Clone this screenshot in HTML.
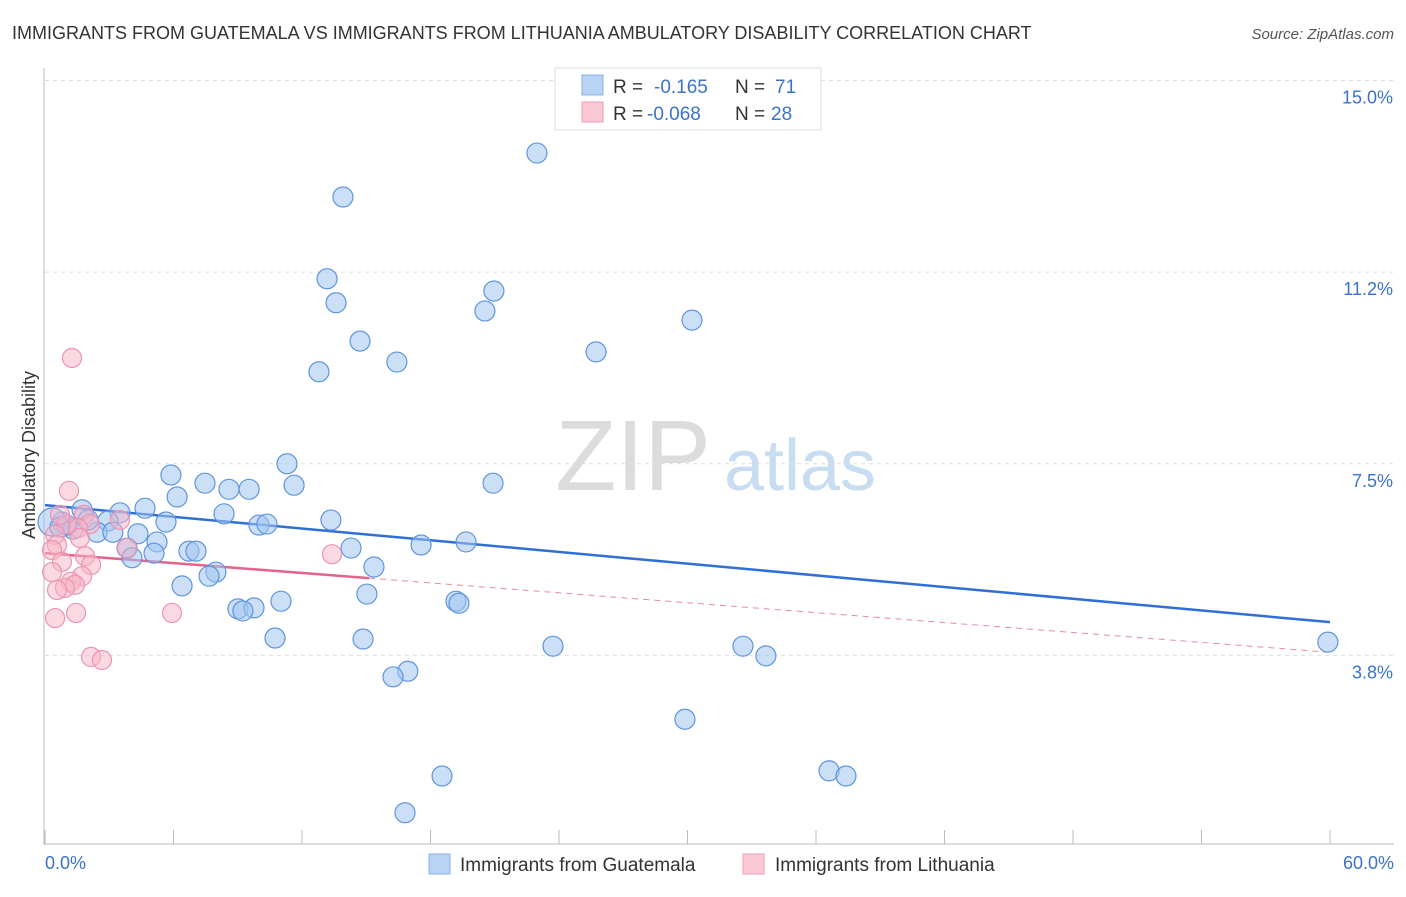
<!DOCTYPE html>
<html><head><meta charset="utf-8"><style>
body{margin:0;background:#fff;font-family:"Liberation Sans",sans-serif;}
svg text{font-family:"Liberation Sans",sans-serif;}
</style></head><body>
<svg width="1406" height="892" xmlns="http://www.w3.org/2000/svg">
<text x="12" y="39" font-size="18" fill="#333">IMMIGRANTS FROM GUATEMALA VS IMMIGRANTS FROM LITHUANIA AMBULATORY DISABILITY CORRELATION CHART</text>
<text x="1394" y="39" font-size="15" fill="#555" font-style="italic" text-anchor="end">Source: ZipAtlas.com</text>
<g id="watermark">
<text x="633" y="490" font-size="100" font-family="Liberation Serif,serif" fill="#dcdcdc" text-anchor="middle">ZIP</text>
<text x="800" y="490" font-size="72" fill="#c8dcf2" text-anchor="middle">atlas</text>
</g>
<g id="grid"></g>
<g id="axes"></g>
<g id="lines"></g>
<g id="points"></g>
<text transform="translate(35,455) rotate(-90)" font-size="18" fill="#333" text-anchor="middle">Ambulatory Disability</text>
<text x="45" y="869" font-size="18" fill="#3b73c9">0.0%</text>
<text x="1394" y="869" font-size="18" fill="#3b73c9" text-anchor="end">60.0%</text>
<g>
<rect x="555" y="68" width="266" height="62" fill="#fff" stroke="#ddd"/>
<rect x="582" y="75" width="21" height="20" fill="#b9d3f4" stroke="#8ab0e6"/>
<rect x="582" y="102" width="21" height="20" fill="#fbc8d6" stroke="#ef9fb6"/>
<text x="613" y="93" font-size="19" fill="#333">R = </text><text x="654" y="93" font-size="19" fill="#3b73c9">-0.165</text>
<text x="735" y="93" font-size="19" fill="#333">N = </text><text x="775" y="93" font-size="19" fill="#3b73c9">71</text>
<text x="613" y="120" font-size="19" fill="#333">R = </text><text x="647" y="120" font-size="19" fill="#3b73c9">-0.068</text>
<text x="735" y="120" font-size="19" fill="#333">N = </text><text x="771" y="120" font-size="19" fill="#3b73c9">28</text>
</g>
<g>
<rect x="429" y="854" width="21" height="20" fill="#b9d3f4" stroke="#8ab0e6"/>
<text x="460" y="871" font-size="19" fill="#333">Immigrants from Guatemala</text>
<rect x="743" y="854" width="21" height="20" fill="#fbc8d6" stroke="#ef9fb6"/>
<text x="775" y="871" font-size="19" fill="#333">Immigrants from Lithuania</text>
</g>
</svg>
<script>
const yTicks=[3.75,7.5,11.25,15];
const yTickLabels=["3.8%","7.5%","11.2%","15.0%"];
const xTicks=[0,6,12,18,24,30,36,42,48,54,60];
const blueX=[22.97,13.91,13.17,13.59,20.96,20.54,30.21,14.71,16.43,25.73,12.79,11.30,5.88,7.47,11.63,20.92,8.59,9.53,6.17,4.67,1.73,3.50,8.36,13.35,5.65,2.94,0.79,0.33,9.99,10.36,1.31,2.43,3.17,4.34,5.23,17.56,19.66,3.83,14.29,6.72,7.05,5.09,4.06,15.36,7.98,7.66,6.40,15.03,11.02,19.19,19.33,9.01,9.76,9.24,10.74,14.85,23.72,32.59,33.66,59.90,16.94,16.25,29.88,18.54,36.61,37.40,16.81,1.03,2.01,0.70];
const blueY=[13.58,12.72,11.12,10.65,10.88,10.49,10.31,9.90,9.49,9.69,9.30,7.50,7.28,7.12,7.08,7.12,7.00,7.00,6.85,6.63,6.60,6.54,6.52,6.40,6.36,6.38,6.36,6.36,6.30,6.32,6.22,6.16,6.16,6.13,5.97,5.91,5.97,5.85,5.85,5.79,5.79,5.75,5.66,5.48,5.38,5.30,5.11,4.95,4.81,4.81,4.77,4.66,4.68,4.62,4.09,4.07,3.93,3.93,3.74,4.01,3.44,3.33,2.50,1.39,1.49,1.39,0.67,6.30,6.40,6.26];
const pinkX=[1.26,1.12,1.82,3.50,0.98,2.10,1.54,0.47,1.63,0.56,3.83,0.33,1.87,13.40,0.79,2.15,0.33,1.73,1.21,1.40,0.93,0.56,1.45,5.93,0.47,2.15,2.66,0.70];
const pinkY=[9.57,6.97,6.50,6.40,6.32,6.32,6.24,6.11,6.05,5.91,5.85,5.81,5.69,5.73,5.58,5.52,5.38,5.30,5.19,5.13,5.07,5.03,4.58,4.58,4.48,3.72,3.66,6.50];
const blueTrend=[6.69,4.40]; // value at x=0 and x=60
const pinkTrend=[5.75,3.81];
const pinkSolidEnd=15.13;
const NS="http://www.w3.org/2000/svg";
const sx=v=>45+v/60*1285;
const sy=v=>847-v*51.1;
function mk(tag,attrs,parent){const e=document.createElementNS(NS,tag);for(const k in attrs)e.setAttribute(k,attrs[k]);document.getElementById(parent).appendChild(e);return e;}
yTicks.forEach((t,i)=>{
 const l=mk('line',{x1:45,x2:1394,y1:sy(t),y2:sy(t),stroke:'#ddd','stroke-dasharray':'4,4'},'grid');
 
 
 const tx=mk('text',{x:1393,y:sy(t)+23,'font-size':18,fill:'#3b73c9','text-anchor':'end'},'grid');
 tx.textContent=yTickLabels[i];
 
 
});
const ax=mk('line',{x1:44,x2:44,y1:68,y2:845,stroke:'#bbb'},'axes');


const bx=mk('line',{x1:44,x2:1394,y1:844,y2:844,stroke:'#bbb'},'axes');


xTicks.forEach(t=>{
 const l=mk('line',{x1:sx(t),x2:sx(t),y1:830,y2:844,stroke:'#bbb'},'axes');
 
 
});
const ln=(v0,v1,x0,x1)=>[sx(x0),sy(v0+(v1-v0)*x0/60),sx(x1),sy(v0+(v1-v0)*x1/60)];
let c=ln(blueTrend[0],blueTrend[1],0,60);
const bl=mk('line',{x1:c[0],y1:c[1],x2:c[2],y2:c[3],stroke:'#2f6fd6','stroke-width':2.5},'lines');


c=ln(pinkTrend[0],pinkTrend[1],pinkSolidEnd,60);
const pd=mk('line',{x1:c[0],y1:c[1],x2:c[2],y2:c[3],stroke:'#e88aa6','stroke-width':1,'stroke-dasharray':'6,5'},'lines');


c=ln(pinkTrend[0],pinkTrend[1],0,pinkSolidEnd);
const ps=mk('line',{x1:c[0],y1:c[1],x2:c[2],y2:c[3],stroke:'#e4638c','stroke-width':2.5},'lines');


blueX.forEach((x,i)=>{
 const p=mk('circle',{cx:sx(x),cy:sy(blueY[i]),r:i==27?14:10,fill:'rgba(160,196,240,0.55)',stroke:'#5f95dc','stroke-width':1.2},'points');
 
 
});
pinkX.forEach((x,i)=>{
 const p=mk('circle',{cx:sx(x),cy:sy(pinkY[i]),r:9.5,fill:'rgba(248,180,200,0.5)',stroke:'#ec94b0','stroke-width':1.2},'points');
 
 
});
</script>
</body></html>
